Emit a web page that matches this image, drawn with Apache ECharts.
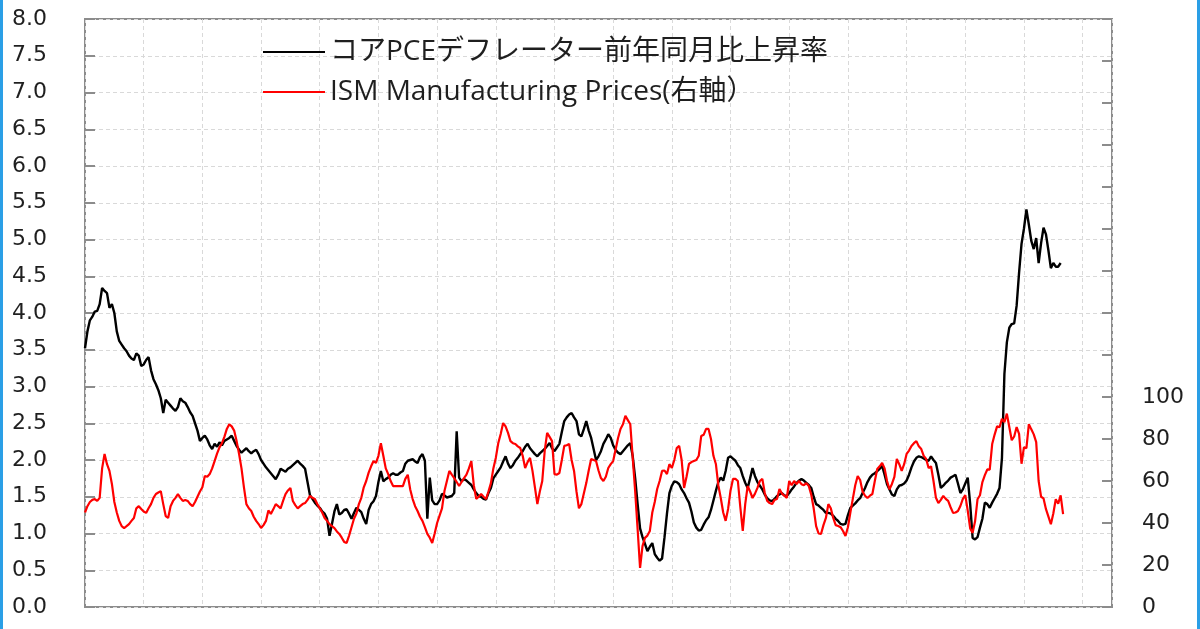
<!DOCTYPE html>
<html>
<head>
<meta charset="utf-8">
<script src="https://cdn.jsdelivr.net/npm/echarts@6/dist/echarts.min.js"></script>
<style>
html,body{margin:0;padding:0;background:#ffffff;}
#chart{width:1200px;height:629px;}
</style>
</head>
<body>
<div id="chart"></div>
<script>
// ---- data (monthly, from Jan 1990) ----
const startYear = 1990;
const seriesNames = ['コアPCEデフレーター前年同月比上昇率', 'ISM Manufacturing Prices(右軸）'];

// Core PCE deflator, % y/y (left axis)
const corePce = [
  3.52,3.75,3.90,3.95,4.02,4.03,4.12,4.34,4.30,4.27,4.07,4.12, // 1990
  4.00,3.75,3.62,3.57,3.52,3.48,3.42,3.38,3.36,3.45,3.42,3.28, // 1991
  3.30,3.36,3.40,3.22,3.10,3.03,2.95,2.84,2.64,2.82,2.78,2.74, // 1992
  2.70,2.67,2.72,2.84,2.80,2.78,2.72,2.65,2.60,2.50,2.40,2.26, // 1993
  2.30,2.33,2.28,2.20,2.15,2.22,2.18,2.24,2.20,2.26,2.28,2.30, // 1994
  2.33,2.26,2.19,2.14,2.10,2.13,2.16,2.12,2.09,2.12,2.14,2.08, // 1995
  2.00,1.95,1.90,1.86,1.82,1.78,1.74,1.80,1.88,1.86,1.84,1.88, // 1996
  1.90,1.93,1.96,1.99,1.95,1.92,1.88,1.70,1.52,1.47,1.42,1.38, // 1997
  1.35,1.30,1.27,1.20,0.97,1.13,1.30,1.40,1.26,1.28,1.32,1.33, // 1998
  1.27,1.20,1.28,1.35,1.32,1.29,1.20,1.13,1.32,1.40,1.44,1.51, // 1999
  1.70,1.85,1.71,1.74,1.76,1.80,1.82,1.80,1.80,1.83,1.85,1.95, // 2000
  1.99,2.00,2.01,1.98,1.96,2.04,2.08,1.99,1.20,1.76,1.45,1.40, // 2001
  1.40,1.45,1.54,1.52,1.49,1.50,1.51,1.55,2.39,1.76,1.71,1.74, // 2002
  1.72,1.69,1.66,1.60,1.55,1.51,1.50,1.47,1.46,1.55,1.62,1.75, // 2003
  1.80,1.85,1.90,1.98,2.05,1.95,1.89,1.93,1.99,2.03,2.08,2.12, // 2004
  2.18,2.22,2.16,2.12,2.08,2.05,2.09,2.12,2.15,2.19,2.23,2.16, // 2005
  2.12,2.17,2.22,2.38,2.53,2.58,2.62,2.64,2.58,2.53,2.35,2.32, // 2006
  2.42,2.53,2.40,2.30,2.15,2.00,2.05,2.12,2.22,2.28,2.35,2.30, // 2007
  2.20,2.14,2.10,2.08,2.12,2.16,2.20,2.23,2.05,1.75,1.40,1.07, // 2008
  0.95,0.86,0.76,0.82,0.87,0.72,0.67,0.63,0.66,0.95,1.27,1.55, // 2009
  1.65,1.71,1.70,1.67,1.60,1.55,1.48,1.42,1.30,1.15,1.08,1.04, // 2010
  1.05,1.12,1.18,1.22,1.32,1.45,1.58,1.70,1.76,1.72,1.85,2.03, // 2011
  2.05,2.02,1.99,1.93,1.89,1.78,1.69,1.62,1.75,1.89,1.78,1.70, // 2012
  1.65,1.60,1.53,1.48,1.45,1.44,1.47,1.51,1.53,1.55,1.52,1.51, // 2013
  1.55,1.60,1.64,1.69,1.72,1.74,1.72,1.69,1.66,1.62,1.50,1.40, // 2014
  1.38,1.35,1.32,1.28,1.28,1.27,1.24,1.20,1.17,1.13,1.12,1.13, // 2015
  1.25,1.35,1.38,1.41,1.45,1.48,1.55,1.62,1.70,1.76,1.80,1.82, // 2016
  1.85,1.88,1.92,1.80,1.67,1.60,1.53,1.51,1.60,1.65,1.66,1.68, // 2017
  1.72,1.80,1.90,1.98,2.03,2.05,2.04,2.02,2.00,1.99,2.05,2.00, // 2018
  1.96,1.80,1.62,1.65,1.69,1.72,1.76,1.78,1.80,1.68,1.55,1.60, // 2019
  1.68,1.76,1.40,0.94,0.92,0.95,1.08,1.20,1.42,1.40,1.35,1.42, // 2020
  1.48,1.54,1.62,2.03,3.17,3.60,3.80,3.85,3.86,4.10,4.55,4.94, // 2021
  5.15,5.41,5.20,4.98,4.87,5.02,4.68,4.95,5.16,5.07,4.85,4.61, // 2022
  4.68,4.63,4.63,4.68                                          // 2023
];

// ISM Manufacturing Prices index (right axis)
const ismPrices = [
  45,48,50,51,51.4,50.5,52,66,72.9,68,64.8,58.6,          // 1990
  50,45,41,38.5,37.6,38.5,39.5,41,42.4,47,48,46.7,        // 1991
  45.5,44.8,47,49,52,53.8,54.5,55.2,49,43.3,42.4,48,      // 1992
  50.5,52,53.8,52,50.5,51,50.5,49,48,50,52.5,55,          // 1993
  57,62.4,62,63.3,66,69.5,73,76,78,81,84.8,87,            // 1994
  86,84,79,73,66,57,49,47,45.7,43,41,39.5,                // 1995
  37.6,39,41,46,44.3,46.5,49,48,47,50.5,53.8,55.5,        // 1996
  56.7,50.5,48.5,47,48,49,49.5,51,52.9,52,51.4,49,        // 1997
  47,45,42.4,41,39.5,38.5,37.6,36,34.8,33,31,30.5,        // 1998
  34,38,42,44.5,49,52,57,60,64,67,69.5,68.6,              // 1999
  72,78,72,66,63.3,60,57.6,57.6,57.6,57.6,57.6,61,        // 2000
  63,56,51.4,48,45.7,43,41,38,34.8,33,30.5,35,            // 2001
  40,43.5,47,55.2,60,64.8,63,61.4,59.5,57.6,59.5,61.4,    // 2002
  63,66,69.5,58,51.5,52.5,53.8,52.5,51.4,55,59,66,        // 2003
  71,78,82.4,87.6,86,82.9,79,78,77.6,76.5,75.7,72,        // 2004
  66.2,69,71,64.8,57,49,55,60,74.3,82.9,81,79,            // 2005
  63.3,63,63.8,70,76.7,77,77.6,70,64.8,55,47,49,          // 2006
  54,59,65,70.5,70,69.5,65,61.4,60,62,66.2,68,            // 2007
  69.5,75,80.5,84.8,87,91,89,87,71,55,37,18.6,            // 2008
  29,32.9,34,36.2,45,50,56.2,60,64.8,65,63.3,68,          // 2009
  66.2,70,75.7,76.7,70,56.7,62,68.1,69,69.5,70,72,        // 2010
  81.4,82,84.8,84.8,80,72,68.1,58,51.9,45,41,46.7,        // 2011
  55.5,61,61,60,47.5,36.2,49,57.6,55,51.9,54,56.7,        // 2012
  60,61,54.3,50.5,49.5,49,51,51.4,56.2,54,53,52,          // 2013
  60,58,60,58.6,60,58.5,58,59,57.6,53.5,47,38.5,          // 2014
  35,34.8,39,42.4,49,47,42.4,39,38.6,38,36.2,33.8,        // 2015
  38,45,51.5,58,62.4,60.5,55,53,51.9,53,53.8,60,          // 2016
  65.7,67,68.6,66,60,56,58.6,62,70.5,68,64.8,68,          // 2017
  72.9,74.5,76.7,78,79,76.5,75.2,72,70.5,66.2,67,60,      // 2018
  52,49.5,51,52.9,51.5,50.5,47.5,44.8,45,45.7,48.1,51.5,  // 2019
  53.3,45.9,37.4,35.3,40.8,51.3,53.2,59.5,62.8,65.5,65.4,77.6, // 2020
  82.1,86.0,85.6,89.6,88.0,92.1,85.7,79.4,81.2,85.7,82.4,68.2, // 2021
  76.1,75.6,87.1,84.6,82.2,78.5,60.0,52.5,51.7,46.6,43.0,39.4, // 2022
  44.5,51.3,49.2,53.2,44.2                                     // 2023
];

// axis ranges / tick settings
const xRange = [1990, 2025];
const xStep = 2;
const leftRange = [0, 8];
const leftStep = 0.5;
const rightRange = [0, 280];
const rightStep = 20;
const rightLabelMax = 100;

// month index -> decimal year
const toPairs = arr => arr.map((v, i) => [startYear + i / 12, v]);

const chart = echarts.init(document.getElementById('chart'), null, {renderer: 'canvas'});
const gridCol = '#d9d9d9';
const axisCol = '#8c8c8c';
const textCol = '#1f1f1f';

chart.setOption({
  animation: false,
  backgroundColor: '#ffffff',
  grid: {left: 85, right: 88, top: 19, bottom: 22, show: true, borderColor: axisCol, borderWidth: 2, backgroundColor: 'transparent'},
  legend: {
    orient: 'vertical', left: 258, top: 33, itemGap: 12,
    itemWidth: 62, itemHeight: 2, icon: 'rect',
    textStyle: {fontFamily: '"Open Sans", "Noto Sans CJK JP", sans-serif', fontSize: 28, color: textCol},
    data: seriesNames
  },
  xAxis: {
    type: 'value', min: xRange[0], max: xRange[1], interval: xStep,
    axisLine: {show: false}, axisTick: {show: false}, axisLabel: {show: false},
    splitLine: {show: true, lineStyle: {color: gridCol, type: [4, 3], width: 1}}
  },
  yAxis: [
    {
      type: 'value', min: leftRange[0], max: leftRange[1], interval: leftStep, position: 'left',
      axisLine: {show: false},
      axisTick: {show: true, inside: true, length: 10, lineStyle: {color: axisCol, width: 2}},
      axisLabel: {margin: 38, fontFamily: '"DejaVu Sans", sans-serif', fontSize: 22, color: textCol, formatter: v => v.toFixed(1)},
      splitLine: {show: true, lineStyle: {color: gridCol, type: [4, 3], width: 1}}
    },
    {
      type: 'value', min: rightRange[0], max: rightRange[1], interval: rightStep, position: 'right',
      axisLine: {show: false},
      axisTick: {show: true, inside: true, length: 10, lineStyle: {color: axisCol, width: 2}},
      axisLabel: {margin: 30, fontFamily: '"DejaVu Sans", sans-serif', fontSize: 22, color: textCol, formatter: v => v <= rightLabelMax ? String(v) : ''},
      splitLine: {show: false}
    }
  ],
  series: [
    {name: seriesNames[0], type: 'line', yAxisIndex: 0, data: toPairs(corePce), symbol: 'none', z: 2,
     lineStyle: {color: '#000000', width: 2.4}, itemStyle: {color: '#000000'}},
    {name: seriesNames[1], type: 'line', yAxisIndex: 1, data: toPairs(ismPrices), symbol: 'none', z: 3,
     lineStyle: {color: '#ff0000', width: 2.2}, itemStyle: {color: '#ff0000'}}
  ],
  graphic: [
    {type: 'rect', left: 0, top: 0, shape: {width: 3, height: 629}, style: {fill: '#2a9fe6'}, silent: true},
    {type: 'rect', left: 1197, top: 0, shape: {width: 3, height: 629}, style: {fill: '#2a9fe6'}, silent: true}
  ]
});
</script>
</body>
</html>
